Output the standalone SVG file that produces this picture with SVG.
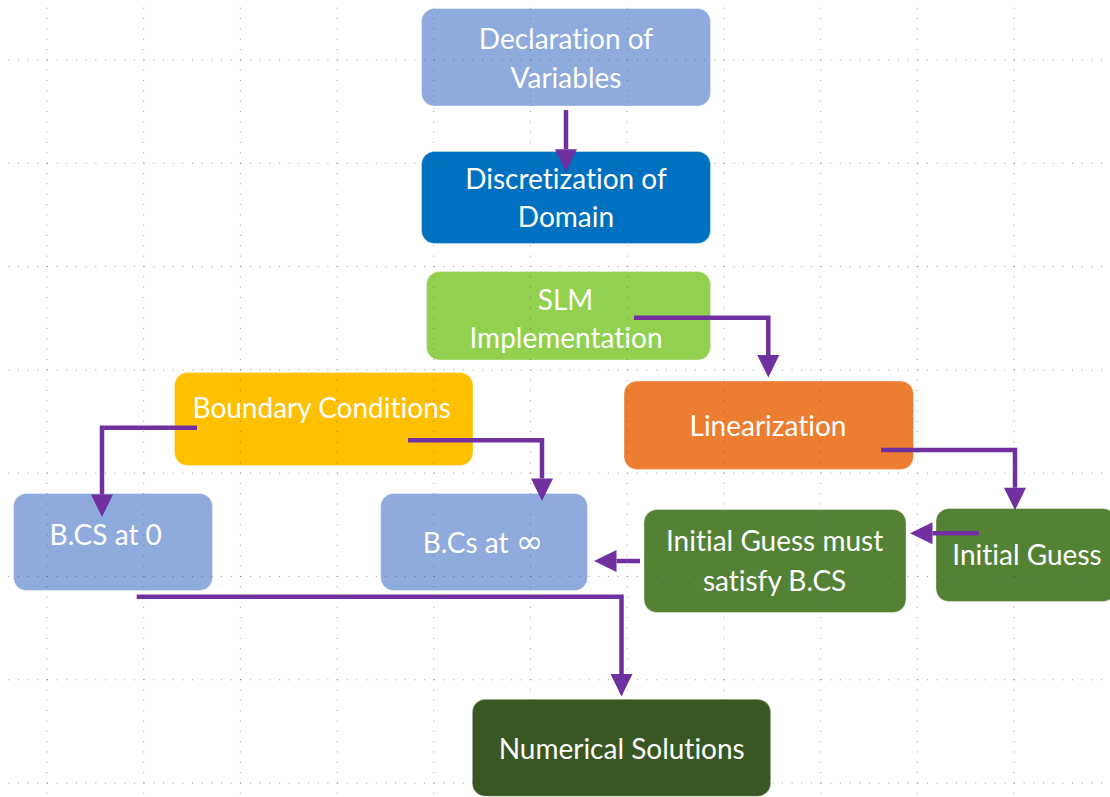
<svg xmlns="http://www.w3.org/2000/svg" width="1110" height="797" viewBox="0 0 1110 797">
  <defs>
    <style>
      .box { stroke: #ffffff; stroke-opacity: 0.35; stroke-width: 1; }
      .lbl { font-family: Lato, "Open Sans", "Liberation Sans", sans-serif; font-size: 28px; fill: #ffffff; text-anchor: middle; font-variant-ligatures: none; font-feature-settings: "liga" 0, "clig" 0; }
      .inf { font-family: "DejaVu Sans", sans-serif; font-size: 33px; }
      .conn { fill: none; stroke: #7030a0; stroke-width: 4.5; stroke-linejoin: miter; marker-end: url(#arrow); }
      .gv { stroke: #3a3a3a; stroke-opacity: 0.5; stroke-width: 1; stroke-dasharray: 1 9.33; }
      .gh { stroke: #3a3a3a; stroke-opacity: 0.5; stroke-width: 1; stroke-dasharray: 1 8.67; }
    </style>
    <marker id="arrow" markerUnits="userSpaceOnUse" markerWidth="23" markerHeight="23" refX="0" refY="11" orient="auto" overflow="visible">
      <path d="M0,0 L22.5,11 L0,22 z" fill="#7030a0"/>
    </marker>
  </defs>
  <rect x="0" y="0" width="1110" height="797" fill="#ffffff"/>

  <g id="node-declaration">
    <rect class="box" x="421.5" y="8.5" width="289" height="97.5" rx="13" fill="#8faadc"/>
    <text class="lbl" x="566" y="48.5">Declaration of</text>
    <text class="lbl" x="566" y="87.5">Variables</text>
  </g>
  <g id="node-discretization">
    <rect class="box" x="421.5" y="151.5" width="289" height="92" rx="13" fill="#0070c0"/>
    <text class="lbl" x="566" y="188.5">Discretization of</text>
    <text class="lbl" x="566" y="226.5">Domain</text>
  </g>
  <g id="node-slm">
    <rect class="box" x="426.5" y="271.5" width="284" height="88.5" rx="13" fill="#92d050"/>
    <text class="lbl" x="565.5" y="309.5">SLM</text>
    <text class="lbl" x="566" y="347.5">Implementation</text>
  </g>
  <g id="node-boundary">
    <rect class="box" x="174.5" y="372.5" width="298.5" height="93" rx="13" fill="#ffc000"/>
    <text class="lbl" x="321.7" y="417.5">Boundary Conditions</text>
  </g>
  <g id="node-linearization">
    <rect class="box" x="624" y="381" width="289.5" height="88.5" rx="13" fill="#ed7d31"/>
    <text class="lbl" x="768" y="436">Linearization</text>
  </g>
  <g id="node-bcs0">
    <rect class="box" x="13.5" y="493.5" width="199" height="97" rx="13" fill="#8faadc"/>
    <text class="lbl" x="105.7" y="544.5">B.CS at 0</text>
  </g>
  <g id="node-bcsinf">
    <rect class="box" x="380.7" y="493.5" width="206.8" height="97" rx="13" fill="#8faadc"/>
    <text class="lbl" x="483" y="552.5">B.Cs at <tspan class="inf">∞</tspan></text>
  </g>
  <g id="node-guess-must">
    <rect class="box" x="644" y="509.5" width="262" height="103" rx="13" fill="#548235"/>
    <text class="lbl" x="774.6" y="551">Initial Guess must</text>
    <text class="lbl" x="774.6" y="590.7">satisfy B.CS</text>
  </g>
  <g id="node-initial-guess">
    <rect class="box" x="936" y="508.5" width="180" height="93" rx="13" fill="#548235"/>
    <text class="lbl" x="1027" y="565">Initial Guess</text>
  </g>
  <g id="node-numerical">
    <rect class="box" x="472.3" y="699.3" width="298.4" height="97" rx="13" fill="#385723"/>
    <text class="lbl" x="621.7" y="759.3">Numerical Solutions</text>
  </g>

  <g id="connectors">
    <path class="conn" d="M566,110 V149.3"/>
    <path class="conn" d="M634,317.7 H768.3 V355"/>
    <path class="conn" d="M881,450 H1015 V487.7"/>
    <path class="conn" d="M979,533.3 H932.5"/>
    <path class="conn" d="M640,561 H616.5"/>
    <path class="conn" d="M197,427.7 H102 V494.5"/>
    <path class="conn" d="M408,440.3 H542 V478.5"/>
    <path class="conn" d="M136.7,596.7 H621.5 V674"/>
  </g>

  <g id="grid">
    <line class="gv" x1="47" y1="7.7" x2="47" y2="797"/>
    <line class="gv" x1="143.7" y1="7.7" x2="143.7" y2="797"/>
    <line class="gv" x1="240.4" y1="7.7" x2="240.4" y2="797"/>
    <line class="gv" x1="337.1" y1="7.7" x2="337.1" y2="797"/>
    <line class="gv" x1="433.8" y1="7.7" x2="433.8" y2="797"/>
    <line class="gv" x1="530.5" y1="7.7" x2="530.5" y2="797"/>
    <line class="gv" x1="627.2" y1="7.7" x2="627.2" y2="797"/>
    <line class="gv" x1="723.9" y1="7.7" x2="723.9" y2="797"/>
    <line class="gv" x1="820.6" y1="7.7" x2="820.6" y2="797"/>
    <line class="gv" x1="917.3" y1="7.7" x2="917.3" y2="797"/>
    <line class="gv" x1="1014" y1="7.7" x2="1014" y2="797"/>
    <line class="gh" x1="8.3" y1="60" x2="1110" y2="60"/>
    <line class="gh" x1="8.3" y1="163.3" x2="1110" y2="163.3"/>
    <line class="gh" x1="8.3" y1="266.6" x2="1110" y2="266.6"/>
    <line class="gh" x1="8.3" y1="369.9" x2="1110" y2="369.9"/>
    <line class="gh" x1="8.3" y1="473.2" x2="1110" y2="473.2"/>
    <line class="gh" x1="8.3" y1="576.5" x2="1110" y2="576.5"/>
    <line class="gh" x1="8.3" y1="679.8" x2="1110" y2="679.8"/>
    <line class="gh" x1="8.3" y1="783.1" x2="1110" y2="783.1"/>
  </g>
</svg>
